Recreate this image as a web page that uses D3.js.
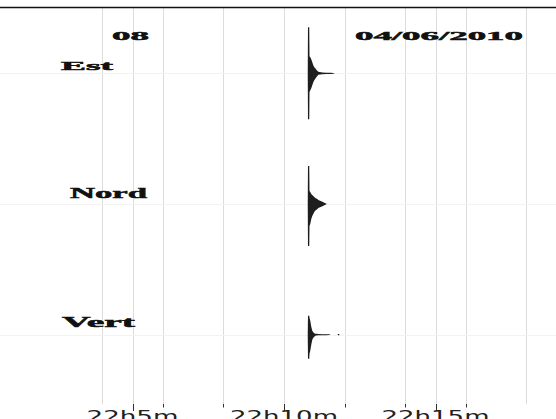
<!DOCTYPE html>
<html><head><meta charset="utf-8">
<script src="https://cdn.jsdelivr.net/npm/d3@7"></script>
<style>html,body{margin:0;padding:0;background:#fff;overflow:hidden}svg{display:block}</style>
</head><body><svg id="c" width="556" height="419"></svg>
<script>
// ---- data ----
const stationCode = "08";
const dateLabel = "04/06/2010";
const channels = ["Est", "Nord", "Vert"];
const arrivalTime = "2010-06-04T22:10:48Z";
// envelope per channel: seconds after arrival, upper / lower amplitude (arbitrary units)
const estSec  = [-1, -0.5, 2, 2.5, 4, 6, 8, 10, 12, 14, 16, 20, 28, 36, 44, 50, 52];
const estUp   = [0.5, 46, 46, 17, 16, 14, 11, 8, 6, 5, 3.5, 1.5, 0.8, 0.6, 0.6, 0.4, 0];
const estLo   = [-0.5, -46, -46, -19, -17, -15, -12, -9, -7, -5.5, -4, -1.5, -0.8, -0.6, -0.6, -0.4, 0];
const nordSec = [-1, -0.5, 2, 2.5, 4, 6, 8, 10, 12, 14, 16, 18, 20, 28, 34, 37];
const nordUp  = [0.5, 38, 38, 13, 12, 10, 9, 8, 7, 6, 5.5, 5, 4, 2.2, 0.8, 0];
const nordLo  = [-0.5, -42, -42, -22, -20, -15, -12, -10, -8, -6.5, -6, -5, -4, -2.2, -0.8, 0];
const vertSec = [-1, -0.5, 2, 2.5, 4, 6, 8, 10, 12, 14, 16, 20, 28, 36, 42, 44, 58, 59, 61, 62];
const vertUp  = [0.5, 19, 19, 17, 14, 8, 4, 2.5, 1.5, 1, 0.8, 0.6, 0.5, 0.5, 0.4, 0, 0, 0.6, 0.6, 0];
const vertLo  = [-0.5, -24, -24, -19, -16, -10, -5, -3, -2, -1, -0.8, -0.6, -0.5, -0.5, -0.4, 0, 0, -0.6, -0.6, 0];
const secs  = [estSec, nordSec, vertSec];
const upper = [estUp, nordUp, vertUp];
const lower = [estLo, nordLo, vertLo];
const majorTickMinutes = [5, 10, 15];
const majorTickLabels = ["22h5m", "22h10m", "22h15m"];
const minorTickMinutes = [6, 8, 10, 12, 14, 16];
const gridMinutes = [4, 5, 6, 8, 10, 12, 14, 15, 16, 18];

// ---- layout ----
const W = 556, H = 419;
const plotTop = 8, plotBottom = 400;
const svg = d3.select("#c");
const t = m => new Date(Date.UTC(2010, 5, 4, 22, m, 0));
const x = d3.scaleUtc().domain([t(5), t(15)]).range([132.5, 435.5]);
const band = d3.scaleBand().domain(channels).range([plotTop, plotBottom]);

// grid
svg.append("g").selectAll("line").data(gridMinutes).join("line")
  .attr("x1", d => Math.round(x(t(d))) + 0.5).attr("x2", d => Math.round(x(t(d))) + 0.5)
  .attr("y1", plotTop).attr("y2", 404)
  .attr("stroke", "#dcdcdc").attr("stroke-width", 1);
svg.append("g").selectAll("line").data(channels).join("line")
  .attr("x1", 0).attr("x2", W)
  .attr("y1", d => Math.round(band(d) + band.bandwidth() / 2) + 0.5)
  .attr("y2", d => Math.round(band(d) + band.bandwidth() / 2) + 0.5)
  .attr("stroke", "#f3f3f3");

// top rule
svg.append("line").attr("x1", 0).attr("x2", W).attr("y1", 7.5).attr("y2", 7.5)
  .attr("stroke", "#111").attr("stroke-width", 1.5);

// traces
const t0 = new Date(arrivalTime).getTime();
channels.forEach((ch, i) => {
  const y0 = band(ch) + band.bandwidth() / 2;
  const y = d3.scaleLinear().domain([-65, 65]).range([y0 + 65, y0 - 65]);
  const pts = secs[i].map((s, k) => ({ s, u: upper[i][k], l: lower[i][k] }));
  const area = d3.area()
    .x(d => x(new Date(t0 + d.s * 1000)))
    .y0(d => y(d.l)).y1(d => y(d.u));
  svg.append("path").datum(pts).attr("d", area).attr("fill", "#1e1e1e");
});

// axis
const ax = svg.append("g").attr("transform", "translate(0,404)");
ax.selectAll("line.maj").data(majorTickMinutes).join("line").attr("class", "maj")
  .attr("x1", d => Math.round(x(t(d))) + 0.5).attr("x2", d => Math.round(x(t(d))) + 0.5)
  .attr("y1", 0).attr("y2", 7).attr("stroke", "#333");
ax.selectAll("line.min").data(minorTickMinutes).join("line").attr("class", "min")
  .attr("x1", d => Math.round(x(t(d))) + 0.5).attr("x2", d => Math.round(x(t(d))) + 0.5)
  .attr("y1", 0).attr("y2", 3.5).attr("stroke", "#333");
ax.selectAll("text").data(majorTickMinutes).join("text")
  .attr("x", d => x(t(d))).attr("y", 18)
  .attr("text-anchor", "middle")
  .attr("font-family", "DejaVu Sans").attr("font-size", 15)
  .attr("textLength", (d, i) => i === 0 ? 92 : 108).attr("lengthAdjust", "spacingAndGlyphs")
  .attr("fill", "#222").text((d, i) => majorTickLabels[i]);

// labels
function lab(txt, x0, yb, len, fs) {
  svg.append("text").attr("x", x0).attr("y", yb).text(txt)
    .attr("textLength", len).attr("lengthAdjust", "spacingAndGlyphs")
    .attr("font-family", "Liberation Serif").attr("font-weight", "bold")
    .attr("font-size", fs).attr("fill", "#111")
    .attr("stroke", "#111").attr("stroke-width", 0.5);
}
lab(stationCode, 112, 40, 37, 13);
lab(dateLabel, 355, 40, 168, 13);
lab(channels[0], 61, 70, 52, 13);
lab(channels[1], 70, 197.5, 77, 14);
lab(channels[2], 62, 326.5, 73, 14);
</script></body></html>
